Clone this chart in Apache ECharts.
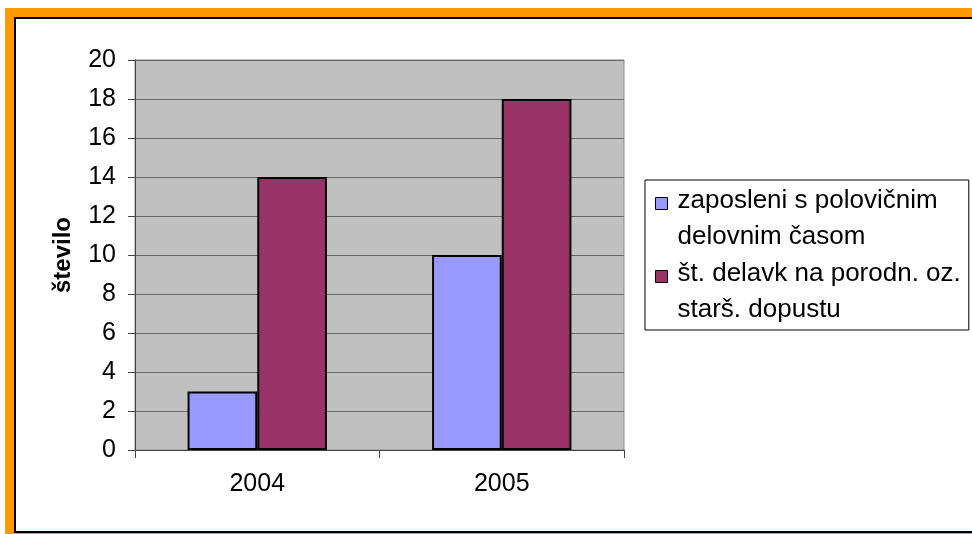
<!DOCTYPE html>
<html>
<head>
<meta charset="utf-8">
<script src="https://cdn.jsdelivr.net/npm/echarts@6/dist/echarts.min.js"></script>
<style>
html,body{margin:0;padding:0;background:#fff;}
#chart{width:972px;height:534px;}
</style>
</head>
<body>
<div id="chart"></div>
<script>
var categories = ['2004', '2005'];
var seriesNames = ['zaposleni s polovičnim delovnim časom', 'št. delavk na porodn. oz. starš. dopustu'];
var legendLines = ['zaposleni s polovičnim\ndelovnim časom', 'št. delavk na porodn. oz.\nstarš. dopustu'];
var partTime = [3, 10];
var leave = [14, 18];
var yAxisName = 'število';

var FONT = '"Liberation Sans", Arial, sans-serif';
var chart = echarts.init(document.getElementById('chart'));
var iconPath = 'path://M0,0M17,72M0,15H12V27H0Z';

chart.setOption({
  animation: false,
  backgroundColor: '#fff',
  graphic: [
    {type: 'rect', z: -10, silent: true, shape: {x: 5, y: 8, width: 1000, height: 540}, style: {fill: '#FF9900'}},
    {type: 'rect', z: -9, silent: true, shape: {x: 14, y: 17, width: 1000, height: 516}, style: {fill: '#000'}},
    {type: 'rect', z: -8, silent: true, shape: {x: 16, y: 19, width: 1000, height: 512}, style: {fill: '#fff'}}
  ],
  grid: {
    left: 135, right: 348, top: 60, bottom: 84,
    show: true, backgroundColor: '#C0C0C0', borderColor: '#888', borderWidth: 1
  },
  legend: {
    orient: 'vertical',
    left: 645, top: 180,
    padding: [2, 8, 2, 10],
    itemGap: 0,
    itemWidth: 17, itemHeight: 72,
    icon: iconPath,
    borderColor: '#000', borderWidth: 1,
    backgroundColor: '#fff',
    itemStyle: {borderColor: '#000', borderWidth: 1},
    textStyle: {fontFamily: FONT, fontSize: 26, color: '#000', lineHeight: 36},
    formatter: function (name) { return legendLines[seriesNames.indexOf(name)]; },
    data: seriesNames
  },
  xAxis: {
    type: 'category',
    data: categories,
    axisLine: {lineStyle: {color: '#444', width: 1}},
    axisTick: {show: true, length: 8, lineStyle: {color: '#444'}},
    axisLabel: {fontFamily: FONT, fontSize: 25, color: '#000', margin: 22},
    splitLine: {show: false}
  },
  yAxis: {
    type: 'value',
    min: 0, max: 20, interval: 2,
    name: yAxisName,
    nameLocation: 'middle',
    nameGap: 60,
    nameTextStyle: {fontFamily: FONT, fontSize: 24, fontWeight: 'bold', color: '#000'},
    axisLine: {show: true, lineStyle: {color: '#444', width: 1}},
    axisTick: {show: true, length: 7, lineStyle: {color: '#444'}},
    axisLabel: {fontFamily: FONT, fontSize: 25, color: '#000', margin: 19},
    splitLine: {show: true, lineStyle: {color: '#666', width: 1}}
  },
  series: [
    {
      name: seriesNames[0], type: 'bar', data: partTime,
      barGap: '0%', barCategoryGap: '43%',
      itemStyle: {color: '#9999FF', borderColor: '#000', borderWidth: 2}
    },
    {
      name: seriesNames[1], type: 'bar', data: leave,
      barGap: '0%', barCategoryGap: '43%',
      itemStyle: {color: '#993366', borderColor: '#000', borderWidth: 2}
    }
  ]
});
</script>
</body>
</html>
